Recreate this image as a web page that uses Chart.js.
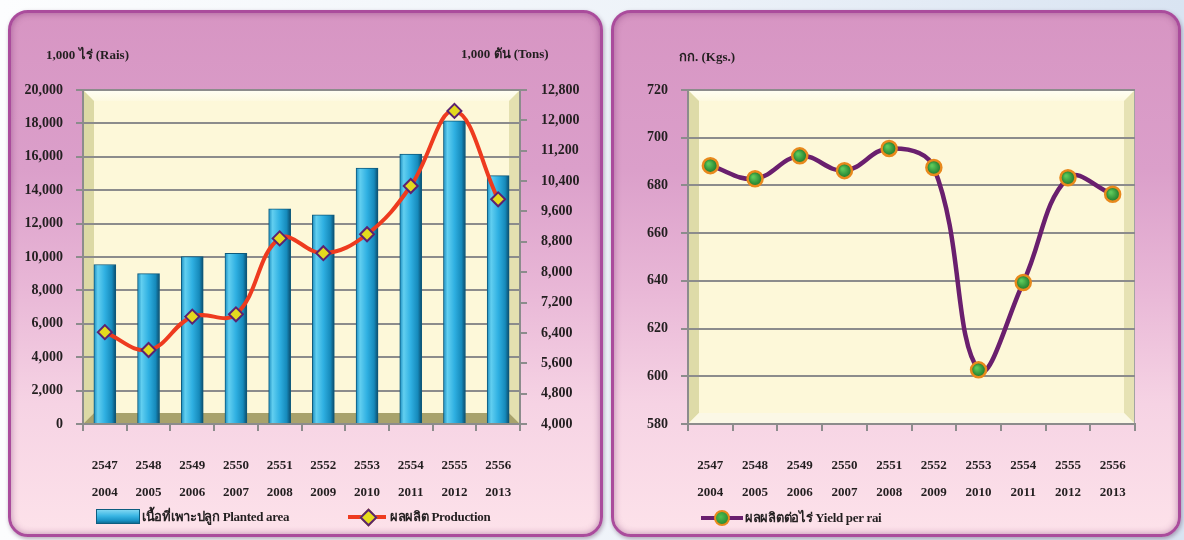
<!DOCTYPE html>
<html>
<head>
<meta charset="utf-8">
<script src="https://cdn.jsdelivr.net/npm/chart.js@4.4.0/dist/chart.umd.min.js"></script>
<style>
body{margin:0;width:1184px;height:540px;overflow:hidden;position:relative;
  background:linear-gradient(90deg,#fcfdfe 0%,#eef3f9 55%,#d9e4f2 100%);
  font-family:"Liberation Serif","DejaVu Serif",serif;font-weight:bold;color:#231f20}
.panel{position:absolute;top:10px;height:527px;box-sizing:border-box;border:3px solid #aa4c9c;border-radius:20px;
  background:linear-gradient(180deg,#d795c3 0%,#db9fca 30%,#e8b6d6 52%,#f6d3e4 75%,#fde2ea 100%);
  box-shadow:inset 0 0 7px rgba(110,30,100,.45),1px 2px 4px rgba(60,20,60,.35)}
canvas{position:absolute;top:10px}
.t{position:absolute;font-size:13px;white-space:nowrap;line-height:16px}
.lg{letter-spacing:-0.3px}
.sw{position:absolute}
</style>
</head>
<body>
<div class="panel" style="left:8px;width:595px"></div>
<div class="panel" style="left:611px;width:570px"></div>

<canvas id="c1" width="594" height="499" style="left:8px"></canvas>
<canvas id="c2" width="570" height="499" style="left:611px"></canvas>

<div class="t" style="left:46px;top:47px">1,000 ไร่ (Rais)</div>
<div class="t" style="left:461px;top:46px">1,000 ตัน (Tons)</div>
<div class="t" style="left:679px;top:49px">กก. (Kgs.)</div>

<!-- legends -->
<div class="sw" style="left:96px;top:509px;width:42px;height:13px;border:1px solid #0d5d80;background:linear-gradient(180deg,#7fd6f2 0%,#3ab6e4 45%,#1a93c6 80%,#0f6f98 100%)"></div>
<div class="t lg" style="left:142px;top:509px">เนื้อที่เพาะปลูก Planted area</div>
<div class="sw" style="left:348px;top:515px;width:38px;height:4px;background:#ee3b1f"></div>
<div class="sw" style="left:362px;top:511px;width:9px;height:9px;transform:rotate(45deg);background:#e5dc1c;border:2px solid #5c2270"></div>
<div class="t lg" style="left:390px;top:509px">ผลผลิต Production</div>

<div class="sw" style="left:701px;top:516px;width:42px;height:4px;background:#6a1f6e"></div>
<div class="sw" style="left:714px;top:510px;width:12px;height:12px;border-radius:50%;background:radial-gradient(circle at 40% 40%,#4fc050,#1f7a2c);border:2px solid #e8891c"></div>
<div class="t lg" style="left:745px;top:510px">ผลผลิตต่อไร่ Yield per rai</div>

<script>
// data
const yearsThai = ['2547','2548','2549','2550','2551','2552','2553','2554','2555','2556'];
const yearsAD = ['2004','2005','2006','2007','2008','2009','2010','2011','2012','2013'];
const plantedArea = [9550, 9000, 10020, 10220, 12880, 12520, 15330, 16160, 18150, 14870]; // 1,000 rai
const production = [6420, 5950, 6830, 6890, 8890, 8500, 9000, 10270, 12250, 9920]; // 1,000 tons
const yieldPerRai = [688.3, 682.8, 692.4, 686.2, 695.5, 687.5, 602.7, 639.3, 683.2, 676.3]; // kg

const labels = yearsThai.map((y, i) => [y, yearsAD[i]]);
const fontDef = {family: '"Liberation Serif", "DejaVu Serif", serif', size: 13, weight: 'bold'};
const yFont = {...fontDef, size: 14};
Chart.defaults.color = '#231f20';
Chart.defaults.font = fontDef;

function poly(ctx, pts, fill) {
  ctx.beginPath();
  ctx.moveTo(pts[0][0], pts[0][1]);
  pts.slice(1).forEach(p => ctx.lineTo(p[0], p[1]));
  ctx.closePath();
  ctx.fillStyle = fill;
  ctx.fill();
}

// cream plot area with a bevelled frame, drawn under the grid
function bevelPlugin(col) {
  return {
    id: 'bevel',
    beforeDraw(chart) {
      const ctx = chart.ctx, a = chart.chartArea, b = 11;
      const l = a.left, t = a.top, r = a.right, bt = a.bottom;
      ctx.save();
      ctx.fillStyle = '#fdf8d9';
      ctx.fillRect(l, t, r - l, bt - t);
      let g = ctx.createLinearGradient(0, t, 0, t + b);
      g.addColorStop(0, '#fffef4'); g.addColorStop(1, '#fdf9e0');
      poly(ctx, [[l, t], [r, t], [r - b, t + b], [l + b, t + b]], g);
      poly(ctx, [[l, t], [l + b, t + b], [l + b, bt - b], [l, bt]], col.left);
      poly(ctx, [[r, t], [r, bt], [r - b, bt - b], [r - b, t + b]], col.right);
      poly(ctx, [[l, bt], [l + b, bt - b], [r - b, bt - b], [r, bt]], col.bottom);
      ctx.strokeStyle = '#a3a3a3';
      ctx.lineWidth = 1;
      ctx.strokeRect(l + 0.5, t + 0.5, r - l - 1, bt - t - 1);
      ctx.restore();
    }
  };
}

function barFill(c) {
  const chart = c.chart;
  if (!chart.chartArea || !chart.scales.x) return '#2aaee0';
  const x = chart.scales.x.getPixelForValue(c.dataIndex);
  const g = chart.ctx.createLinearGradient(x - 11, 0, x + 11, 0);
  g.addColorStop(0, '#1a8cbf');
  g.addColorStop(0.18, '#62cff0');
  g.addColorStop(0.5, '#2fb0e2');
  g.addColorStop(0.82, '#168abb');
  g.addColorStop(1, '#0b4a6a');
  return g;
}

function dotFill(c) {
  const chart = c.chart;
  if (!chart.chartArea || !chart.scales.x) return '#2f9a3a';
  const x = chart.scales.x.getPixelForValue(c.dataIndex);
  const y = chart.scales.y.getPixelForValue(c.raw);
  const g = chart.ctx.createRadialGradient(x - 2, y - 2, 1, x, y, 7);
  g.addColorStop(0, '#5cc85a');
  g.addColorStop(1, '#1f7a2c');
  return g;
}

const gridCol = '#8c8c8c';

new Chart(document.getElementById('c1'), {
  type: 'bar',
  data: {
    labels: labels,
    datasets: [
      {
        type: 'line',
        label: 'ผลผลิต Production',
        data: production,
        yAxisID: 'y1',
        order: 0,
        borderColor: '#ee3b1f',
        borderWidth: 4,
        tension: 0.4,
        pointStyle: 'rectRot',
        pointRadius: 7,
        pointBackgroundColor: '#e3da1e',
        pointBorderColor: '#5c2270',
        pointBorderWidth: 2
      },
      {
        label: 'เนื้อที่เพาะปลูก Planted area',
        data: plantedArea,
        yAxisID: 'y',
        order: 1,
        barThickness: 22,
        backgroundColor: barFill,
        borderColor: '#0d5a7c',
        borderWidth: 1
      }
    ]
  },
  options: {
    responsive: false,
    animation: false,
    layout: {padding: {top: 80, left: 0, right: 0, bottom: 0}},
    plugins: {legend: {display: false}, tooltip: {enabled: false}},
    scales: {
      x: {
        grid: {drawOnChartArea: false, offset: true, tickLength: 7, color: gridCol, lineWidth: 2},
        border: {color: gridCol, width: 2},
        ticks: {padding: 21, font: {...fontDef, lineHeight: 2.1}, maxRotation: 0},
        afterFit: s => { s.height = 85; }
      },
      y: {
        position: 'left',
        min: 0, max: 20000,
        ticks: {stepSize: 2000, padding: 13, font: yFont, callback: v => v.toLocaleString('en-US')},
        grid: {color: gridCol, lineWidth: 2, tickLength: 7},
        border: {color: gridCol, width: 2},
        afterFit: s => { s.width = 75; }
      },
      y1: {
        position: 'right',
        min: 4000, max: 12800,
        ticks: {stepSize: 800, padding: 14, font: yFont, callback: v => v.toLocaleString('en-US')},
        grid: {drawOnChartArea: false, color: gridCol, lineWidth: 2, tickLength: 7},
        border: {color: gridCol, width: 2},
        afterFit: s => { s.width = 82; }
      }
    }
  },
  plugins: [bevelPlugin({left: '#dcd9a5', right: '#e4e0b0', bottom: '#a8a26c'})]
});

new Chart(document.getElementById('c2'), {
  type: 'line',
  data: {
    labels: labels,
    datasets: [{
      label: 'ผลผลิตต่อไร่ Yield per rai',
      data: yieldPerRai,
      borderColor: '#6a1f6e',
      borderWidth: 4.5,
      tension: 0.4,
      pointRadius: 7.5,
      pointBackgroundColor: dotFill,
      pointBorderColor: '#e8891c',
      pointBorderWidth: 2.5
    }]
  },
  options: {
    responsive: false,
    animation: false,
    layout: {padding: {top: 80, left: 0, right: 46, bottom: 0}},
    plugins: {legend: {display: false}, tooltip: {enabled: false}},
    scales: {
      x: {
        offset: true,
        grid: {drawOnChartArea: false, offset: true, tickLength: 7, color: gridCol, lineWidth: 2},
        border: {color: gridCol, width: 2},
        ticks: {padding: 21, font: {...fontDef, lineHeight: 2.1}, maxRotation: 0},
        afterFit: s => { s.height = 85; }
      },
      y: {
        min: 580, max: 720,
        ticks: {stepSize: 20, padding: 13, font: yFont},
        grid: {color: gridCol, lineWidth: 2, tickLength: 7},
        border: {color: gridCol, width: 2},
        afterFit: s => { s.width = 77; }
      }
    }
  },
  plugins: [bevelPlugin({left: '#dedba8', right: '#e6e2b4', bottom: '#fbf8e6'})]
});
</script>
</body>
</html>
